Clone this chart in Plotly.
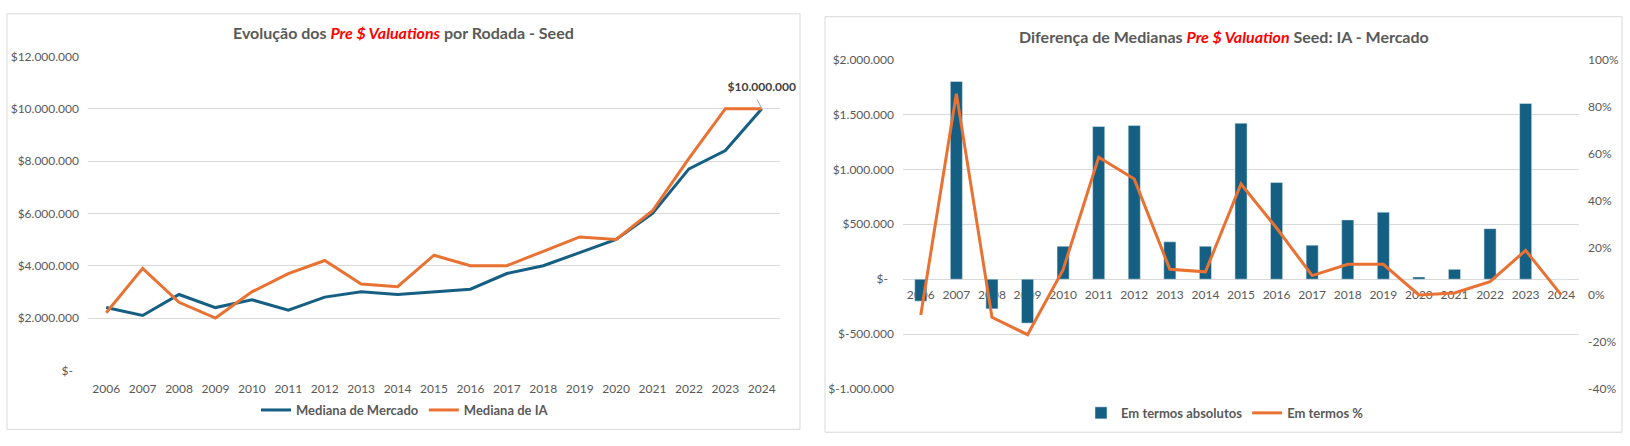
import plotly.graph_objects as go

anos = ['2006', '2007', '2008', '2009', '2010', '2011', '2012', '2013', '2014', '2015',
        '2016', '2017', '2018', '2019', '2020', '2021', '2022', '2023', '2024']

mediana_mercado = [2400000, 2100000, 2900000, 2400000, 2700000, 2300000, 2800000, 3000000,
                   2900000, 3000000, 3100000, 3700000, 4000000, 4500000, 5000000, 6000000,
                   7700000, 8400000, 10000000]
mediana_ia = [2200000, 3900000, 2600000, 2000000, 3000000, 3700000, 4200000, 3300000,
              3200000, 4400000, 4000000, 4000000, 4550000, 5100000, 5000000, 6100000,
              8100000, 10000000, 10000000]

dif_absoluta = [-200000, 1800000, -270000, -400000, 300000, 1390000, 1400000, 340000,
                300000, 1420000, 880000, 310000, 540000, 610000, 20000, 90000,
                460000, 1600000, 0]
dif_pct = [-0.085, 0.855, -0.095, -0.169, 0.107, 0.585, 0.492, 0.109, 0.098, 0.471,
           0.284, 0.082, 0.13, 0.13, 0.0, 0.008, 0.056, 0.189, 0.0]

ticks_y1 = [0, 2000000, 4000000, 6000000, 8000000, 10000000, 12000000]
ticktext_y1 = ['$-\u00a0\u00a0', '$2.000.000', '$4.000.000', '$6.000.000', '$8.000.000',
               '$10.000.000', '$12.000.000']
ticks_y2 = [-1000000, -500000, 0, 500000, 1000000, 1500000, 2000000]
ticktext_y2 = ['$-1.000.000', '$-500.000', '$-\u00a0\u00a0', '$500.000', '$1.000.000',
               '$1.500.000', '$2.000.000']
ticks_y3 = [-0.4, -0.2, 0, 0.2, 0.4, 0.6, 0.8, 1.0]
ticktext_y3 = ['-40%', '-20%', '0%', '20%', '40%', '60%', '80%', '100%']

W, H = 1630, 446
azul = '#156082'
laranja = '#E97132'
cinza = '#595959'
grade = '#D9D9D9'
fonte = 'Lato'


def px(x):
    return x / W


def py(y):
    return (H - y) / H


fig = go.Figure()

fig.add_trace(go.Scatter(x=anos, y=mediana_mercado, mode='lines', name='Mediana de Mercado',
                         line=dict(color=azul, width=3), xaxis='x', yaxis='y', legend='legend'))
fig.add_trace(go.Scatter(x=anos, y=mediana_ia, mode='lines', name='Mediana de IA',
                         line=dict(color=laranja, width=3), xaxis='x', yaxis='y', legend='legend'))
# rótulo do último ponto
fig.add_trace(go.Scatter(x=[anos[-1]], y=[mediana_ia[-1]], mode='markers+text',
                         text=['<b>$10.000.000</b>'], textposition='top center',
                         textfont=dict(family=fonte, size=12, color='#404040'),
                         marker=dict(size=22, opacity=0), showlegend=False,
                         hoverinfo='skip', cliponaxis=False, xaxis='x', yaxis='y'))

fig.add_trace(go.Bar(x=anos, y=dif_absoluta, name='Em termos absolutos', marker_color=azul,
                     xaxis='x2', yaxis='y2', legend='legend2'))
fig.add_trace(go.Scatter(x=anos, y=dif_pct, mode='lines', name='Em termos %',
                         line=dict(color=laranja, width=3), xaxis='x2', yaxis='y3',
                         legend='legend2'))

tick_font = dict(family=fonte, size=12, color=cinza)

fig.update_layout(
    width=W, height=H,
    margin=dict(l=0, r=0, t=0, b=0),
    paper_bgcolor='white', plot_bgcolor='white',
    font=dict(family=fonte, color=cinza),
    bargap=0.66,
    xaxis=dict(domain=[px(88), px(780)], anchor='y', type='category', range=[-0.5, 18.5],
               showgrid=False, showline=False, ticks='', tickfont=tick_font,
               ticklabelstandoff=10),
    yaxis=dict(domain=[py(375), py(50)], anchor='x', range=[0, 12000000],
               tickvals=ticks_y1, ticktext=ticktext_y1, showgrid=True, gridcolor=grade,
               gridwidth=1, zeroline=False, showline=False, ticks='', tickfont=tick_font,
               ticklabelstandoff=8),
    xaxis2=dict(domain=[px(903), px(1579)], anchor='free', position=py(281),
                type='category', range=[-0.5, 18.5], showgrid=False, showline=False,
                ticks='', tickfont=tick_font, layer='below traces', ticklabelstandoff=6),
    yaxis2=dict(domain=[py(394.3), py(53.3)], anchor='x2', range=[-1000000, 2000000],
                tickvals=ticks_y2, ticktext=ticktext_y2, showgrid=True, gridcolor=grade,
                gridwidth=1, zeroline=False, showline=False, ticks='', tickfont=tick_font,
                ticklabelstandoff=8),
    yaxis3=dict(overlaying='y2', side='right', anchor='x2', range=[-0.4, 1.0],
                tickvals=ticks_y3, ticktext=ticktext_y3, showgrid=False, zeroline=False,
                showline=False, ticks='', tickfont=tick_font, ticklabelstandoff=8),
    legend=dict(orientation='h', x=px(405), y=py(416), xanchor='center', yanchor='middle',
                font=dict(family=fonte, size=13, color=cinza, weight='bold'),
                bgcolor='rgba(0,0,0,0)'),
    legend2=dict(orientation='h', x=px(1225), y=py(419), xanchor='center', yanchor='middle',
                 font=dict(family=fonte, size=13, color=cinza, weight='bold'),
                 bgcolor='rgba(0,0,0,0)'),
    showlegend=True,
)

# molduras dos dois gráficos
for x0, y0, x1, y1 in [(7, 6, 800, 436), (825, 9, 1622, 439)]:
    fig.add_shape(type='rect', xref='paper', yref='paper',
                  x0=px(x0), x1=px(x1), y0=py(y1), y1=py(y0),
                  line=dict(color=grade, width=1), fillcolor='rgba(0,0,0,0)')

destaque = "<i><span style='color:#FF0000'>{}</span></i>"
fig.add_annotation(xref='paper', yref='paper', x=px(403.5), y=py(25.5), showarrow=False,
                   xanchor='center', yanchor='middle',
                   text='<b>Evolução dos ' + destaque.format('Pre $ Valuations')
                        + ' por Rodada - Seed</b>',
                   font=dict(family=fonte, size=16, color=cinza))
fig.add_annotation(xref='paper', yref='paper', x=px(1223.5), y=py(29), showarrow=False,
                   xanchor='center', yanchor='middle',
                   text='<b>Diferença de Medianas ' + destaque.format('Pre $ Valuation')
                        + ' Seed: IA - Mercado</b>',
                   font=dict(family=fonte, size=16, color=cinza))

# linha de chamada do rótulo
fig.add_annotation(xref='x', yref='y', x=len(anos) - 1, y=mediana_ia[-1], text=' ',
                   font=dict(size=1), borderpad=0, showarrow=True, arrowhead=0,
                   arrowwidth=1, arrowcolor='#A6A6A6', ax=-5, ay=-10)

fig.write_html('out.html', config={'displayModeBar': False},
               post_script="document.body.style.margin='0';")
